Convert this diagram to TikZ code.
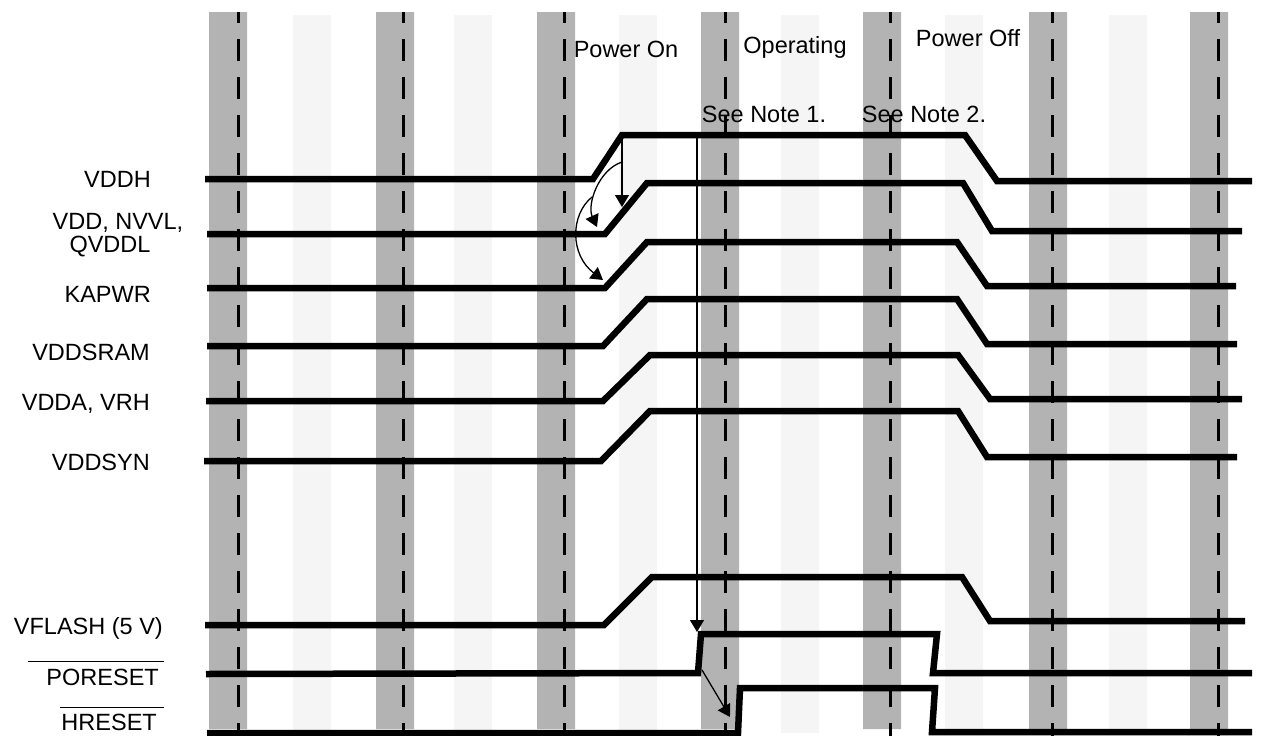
\documentclass[tikz,border=0pt]{standalone}
\usepackage{fontspec}
\setmainfont{Liberation Sans}
\usetikzlibrary{arrows.meta}
\definecolor{bandgray}{HTML}{B3B3B3}
\definecolor{bandlight}{HTML}{F5F5F5}

\begin{document}
\begin{tikzpicture}[x=1pt, y=-1pt,
  every node/.style={font=\fontsize{23.5}{28}\selectfont, inner sep=0pt},
  darkband/.style={fill=bandgray},
  lightband/.style={fill=bandlight},
  gridline/.style={line width=3pt, dash pattern=on 22pt off 16pt, dash phase=11pt},
  signal/.style={line width=6.5pt},
  cause/.style={line width=1.3pt, -{Triangle[length=12pt,width=14pt]}},
  overbar/.style={line width=1.5pt}]
  \useasboundingbox (0,0) rectangle (1261,736);

  % background bands
  \fill[lightband] (293,15) rectangle ++(38,718) (454,15) rectangle ++(38,718)
    (619,15) rectangle ++(38,718) (781,15) rectangle ++(38,718)
    (945,15) rectangle ++(38,718) (1109,15) rectangle ++(38,718);
  \fill[darkband] (209,12) rectangle ++(38,717) (376,12) rectangle ++(38,717)
    (537,12) rectangle ++(38,717) (701,12) rectangle ++(38,717)
    (863,12) rectangle ++(38,717) (1029,12) rectangle ++(38,717)
    (1190,12) rectangle ++(38,717);
  \draw[gridline] (238,12) -- (238,736) (403,12) -- (403,736) (564,12) -- (564,736)
    (725,12) -- (725,736) (890,12) -- (890,736) (1052,12) -- (1052,736)
    (1218,12) -- (1218,736);

  % supply rails
  \draw[signal] (205,179) -- (593,179) -- (622,135) -- (965,135) -- (997,181) -- (1252,181);
  \draw[signal] (207,234) -- (605,234) -- (647,183) -- (963,183) -- (992,231) -- (1242,231);
  \draw[signal] (207,288) -- (605,288) -- (647,242) -- (957,242) -- (987,286) -- (1236,286);
  \draw[signal] (207,346) -- (603,346) -- (647,299) -- (957,299) -- (987,344) -- (1237,344);
  \draw[signal] (206,401) -- (603,401) -- (650,355) -- (958,355) -- (990,399) -- (1242,399);
  \draw[signal] (204,461) -- (601,461) -- (650,411) -- (958,411) -- (987,457) -- (1237,457);
  \draw[signal] (205,625) -- (604,625) -- (652,577) -- (962,577) -- (990,621) -- (1245,621);
  % resets
  \draw[signal] (206,674) -- (698,673) -- (701,634) -- (937,634) -- (933,673) -- (1252,673);
  \draw[signal] (207,733) -- (738,733) -- (740,688) -- (935,688) -- (932,732) -- (1252,732);

  % sequencing arrows
  \coordinate (vddhUp) at (622,135);
  \coordinate (vddRamp) at (622,207);
  \coordinate (arcA) at (622,162);
  \coordinate (vddFoot) at (597,227);
  \coordinate (arcB) at (592,197);
  \coordinate (kapFoot) at (603,280);
  \coordinate (noteOne) at (697,135);
  \coordinate (porUp) at (697,632);
  \coordinate (porFoot) at (702,670);
  \coordinate (hresUp) at (730,717);
  \draw[cause] (vddhUp) -- (vddRamp);
  \draw[cause] (arcA) .. controls (598,170) and (587,205) .. (vddFoot);
  \draw[cause] (arcB) .. controls (570,215) and (570,255) .. (kapFoot);
  \draw[cause] (noteOne) -- (porUp);
  \draw[cause] (porFoot) -- (hresUp);

  % phase labels
  \node[anchor=base] (pwron) at (626,57) {Power On};
  \node[anchor=base] (operating) at (795,53) {Operating};
  \node[anchor=base] (pwroff) at (968,46) {Power Off};
  \node[anchor=base] (note1) at (764,122) {See Note 1.};
  \node[anchor=base] (note2) at (924,122) {See Note 2.};

  % signal names
  \node[anchor=base east] (vddh) at (151,187) {VDDH};
  \node[anchor=base] (vddA) at (118,229) {VDD, NVVL,};
  \node[anchor=base] (vddB) at (110,252) {QVDDL};
  \node[anchor=base east] (kapwr) at (151,302) {KAPWR};
  \node[anchor=base east] (vddsram) at (150,360) {VDDSRAM};
  \node[anchor=base east] (vdda) at (150,410) {VDDA, VRH};
  \node[anchor=base east] (vddsyn) at (150,470) {VDDSYN};
  \node[anchor=base east] (vflash) at (163,634) {VFLASH (5 V)};
  \node[anchor=base east] (poreset) at (159,685) {PORESET};
  \node[anchor=base east] (hreset) at (157,730) {HRESET};
  \draw[overbar] ([xshift=-18pt,yshift=7pt]poreset.north west) -- ([xshift=5pt,yshift=7pt]poreset.north east);
  \draw[overbar] ([xshift=-1pt,yshift=6pt]hreset.north west) -- ([xshift=7pt,yshift=6pt]hreset.north east);
\end{tikzpicture}
\end{document}
